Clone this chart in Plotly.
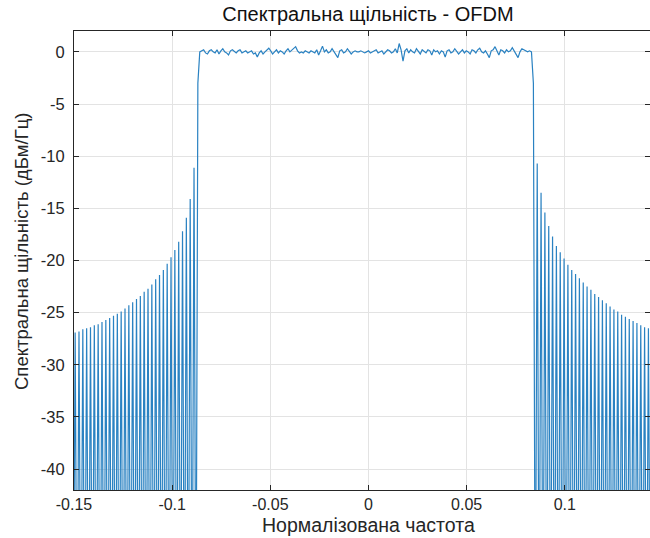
import plotly.graph_objects as go

# ---- data ----
freq_resolution = 1 / 1024          # FFT bin width (normalised frequency)
inband_first_bin = -88              # first in-band bin
edge_level_db = -3.0                # level at the band edges
null_level_db = -60.0               # spectral nulls (below the visible range)

# in-band PSD (dB), bins -88 .. 85
inband_db = [
    0.0, 0.1, 0.2, -0.1, -0.2, 0.1, 0.2, 0.0, -0.1, 0.2,
    -0.2, 0.1, 0.3, 0.0, -0.1, -0.3, 0.1, 0.2, 0.0, -0.1,
    0.1, 0.2, -0.1, 0.0, 0.1, -0.1, 0.0, 0.1, -0.2, -0.1,
    -0.5, -0.1, 0.1, -0.2, 0.0, 0.2, 0.35, 0.1, -0.2, 0.0,
    0.2, -0.1, 0.1, 0.0, -0.2, 0.1, 0.3, 0.0, 0.2, 0.4,
    0.5, 0.1, -0.1, 0.0, -0.1, 0.1, 0.0, -0.1, 0.1, 0.0,
    -0.1, 0.2, -0.3, 0.1, 0.55, 0.0, 0.2, -0.1, 0.0, 0.3,
    0.0, -0.2, -0.55, 0.1, 0.2, -0.1, 0.0, 0.3, 0.1, -0.2,
    0.0, 0.1, 0.0, 0.0, 0.1, 0.0, -0.1, 0.0, 0.1, -0.1,
    0.0, 0.1, 0.2, -0.1, 0.0, 0.1, -0.2, 0.0, 0.2, 0.1,
    -0.1, 0.0, 0.3, -0.1, 0.8, 0.2, -0.9, 0.1, 0.3, -0.1,
    0.2, 0.0, -0.1, 0.3, 0.1, -0.2, 0.2, 0.0, -0.1, 0.2,
    0.1, -0.3, 0.2, 0.0, 0.1, -0.2, 0.1, 0.0, -0.5, 0.1,
    0.2, -0.1, 0.0, 0.3, 0.1, -0.2, 0.0, 0.2, -0.1, 0.1,
    0.0, -0.2, 0.2, 0.1, -0.1, 0.2, 0.35, 0.0, -0.1, 0.1,
    -0.2, -0.55, 0.1, 0.2, 0.5, 0.0, -0.3, 0.2, 0.1, -0.1,
    0.2, 0.0, 0.1, 0.4, 0.1, -0.2, -0.55, 0.0, 0.3, 0.2,
    0.1, 0.0, 0.1, 0.0,
]

# out-of-band sidelobe peaks (dB), from the band edge outwards
left_sidelobes_db = [
    -11.1, -14.1, -15.9, -17.2, -18.2, -19.0, -19.7, -20.3, -20.9, -21.4,
    -21.8, -22.3, -22.7, -23.0, -23.4, -23.7, -24.0, -24.3, -24.6, -24.9,
    -25.1, -25.3, -25.5, -25.7, -25.9, -26.1, -26.2, -26.4, -26.5, -26.6,
    -26.8, -26.9, -27.0,
]
right_sidelobes_db = [
    -10.7, -13.5, -15.4, -16.7, -17.7, -18.6, -19.2, -19.8, -20.4, -20.9,
    -21.3, -21.7, -22.1, -22.5, -22.8, -23.2, -23.5, -23.8, -24.1, -24.4,
    -24.7, -24.9, -25.2, -25.4, -25.6, -25.8, -26.0, -26.2, -26.4, -26.5,
    -26.7,
]

x_tick_vals = [-0.15, -0.1, -0.05, 0, 0.05, 0.1, 0.15]
x_tick_text = ["-0.15", "-0.1", "-0.05", "0", "0.05", "0.1", "0.15"]
y_tick_vals = [-40, -35, -30, -25, -20, -15, -10, -5, 0]
y_tick_text = [str(v) for v in y_tick_vals]

title_text = "Спектральна щільність - OFDM"
x_label = "Нормалізована частота"
y_label = "Спектральна щільність (дБм/Гц)"

# ---- assemble the spectrum (bin -> level) ----
spec = {}
for i, v in enumerate(inband_db):
    spec[inband_first_bin + i] = v
last_inband = inband_first_bin + len(inband_db) - 1
left_edge = inband_first_bin - 1
right_edge = last_inband + 1
spec[left_edge] = edge_level_db
spec[right_edge] = edge_level_db
for n, v in enumerate(left_sidelobes_db):
    spec[left_edge - 1 - 2 * n] = null_level_db
    spec[left_edge - 2 - 2 * n] = v
spec[left_edge - 1 - 2 * len(left_sidelobes_db)] = null_level_db
for n, v in enumerate(right_sidelobes_db):
    spec[right_edge + 1 + 2 * n] = null_level_db
    spec[right_edge + 2 + 2 * n] = v
spec[right_edge + 1 + 2 * len(right_sidelobes_db)] = null_level_db

bins = sorted(spec)
freqs = [b * freq_resolution for b in bins]
levels = [spec[b] for b in bins]

W, H = 650, 538
L, R, T, B = 74, 0, 31, 48
font_family = "Liberation Sans, Arial, Helvetica, sans-serif"
axis_color = "#262626"

fig = go.Figure()
fig.add_trace(go.Scatter(
    x=freqs, y=levels, mode="lines",
    line=dict(color="#2a82c2", width=1.2),
    hoverinfo="skip", showlegend=False,
))

x_span_per_px = 0.30 / 589.0
fig.update_layout(
    width=W, height=H,
    margin=dict(l=L, r=R, t=T, b=B, autoexpand=False),
    plot_bgcolor="white", paper_bgcolor="white",
    font=dict(family=font_family, size=16, color=axis_color),
    xaxis=dict(
        range=[-0.15, -0.15 + (W - L - R) * x_span_per_px],
        tickvals=x_tick_vals, ticktext=x_tick_text,
        ticks="inside", ticklen=5, tickcolor=axis_color,
        showline=True, linecolor=axis_color, linewidth=1, mirror="ticks",
        showgrid=True, gridcolor="#e3e3e3", gridwidth=1,
        zeroline=False, tickfont=dict(size=16, color=axis_color),
        ticklabelstandoff=0,
    ),
    yaxis=dict(
        range=[-42, 2],
        tickvals=y_tick_vals, ticktext=y_tick_text,
        ticks="inside", ticklen=5, tickcolor=axis_color,
        showline=True, linecolor=axis_color, linewidth=1, mirror="ticks",
        showgrid=True, gridcolor="#e3e3e3", gridwidth=1,
        zeroline=False, tickfont=dict(size=16.5, color=axis_color),
        ticklabelstandoff=5,
    ),
    title=dict(
        text=title_text, x=368 / W, xref="container", xanchor="center",
        y=1 - 14 / H, yref="container", yanchor="middle",
        font=dict(size=20, color="#111111", family=font_family),
    ),
    annotations=[
        dict(text=x_label, x=368 / W, y=1 - 525 / H, xref="paper", yref="paper",
             xanchor="center", yanchor="middle",
             showarrow=False, font=dict(size=19.5, color=axis_color)),
        dict(text=y_label, x=22 / W, y=1 - 252 / H, xref="paper", yref="paper",
             xanchor="center", yanchor="middle",
             showarrow=False, textangle=-90, font=dict(size=18.5, color=axis_color)),
    ],
)
# annotations use paper coords; convert container pixel positions to paper
for a in fig.layout.annotations:
    px_x = a.x * W
    px_y = (1 - a.y) * H
    a.x = (px_x - L) / (W - L - R)
    a.y = 1 - (px_y - T) / (H - T - B)

fig.write_html(
    "out.html",
    config={"displayModeBar": False},
    post_script="document.body.style.margin='0px';document.body.style.overflow='hidden';",
)
